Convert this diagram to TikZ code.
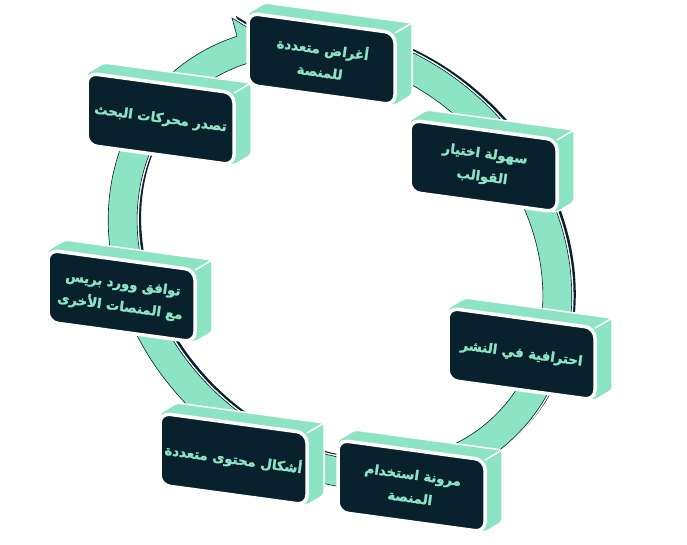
\documentclass[tikz,border=0pt]{standalone}
\usepackage{fontspec}
\TeXXeTstate=1
\newfontfamily\arabicfont[Script=Arabic,FakeBold=1.6]{DejaVu Sans}
\definecolor{mintc}{RGB}{140,228,196}
\definecolor{darkc}{RGB}{8,33,45}

\newcommand\ringlayer[2]{%
\begin{scope}[shift={#1}]
 \begin{scope}[shift={(340,258)},rotate=-45]
  \path[#2,even odd rule] (0,0) ellipse [x radius=250pt,y radius=212pt] (0,0) ellipse [x radius=221pt,y radius=183pt];
 \end{scope}
 \path[#2] (237,36) -- (232,18) -- (268,40) -- (257,77) -- (249,63);
\end{scope}}

\newcommand\slab[4]{%
 \fill[mintc,draw=white,line width=1.5pt,rounded corners=3pt]
   ({#2},{#3+72}) -- ({#2},{#3}) -- ({#2+17},{#3-10}) -- ({#2+164},{#3+10}) -- ({#2+164},{#3+82}) -- ({#2+147},{#3+92}) -- cycle;
 \draw[white,line width=1.5pt] ({#2+147},{#3+20}) -- ({#2+164},{#3+10});
 \filldraw[face] ({#2},{#3}) -- ({#2+147},{#3+20}) -- ({#2+147},{#3+92}) -- ({#2},{#3+72}) -- cycle;
 \node[txt] (#1) at ({#2+73.5},{#3+46}) {#4};
}

\begin{document}
\begin{tikzpicture}[x=1pt,y=-1pt,
  face/.style={fill=darkc,draw=white,line width=3.5pt,rounded corners=10pt},
  txt/.style={text=mintc,font=\arabicfont\bfseries\fontsize{13.3}{23}\selectfont,align=center,rotate=-7.75,inner sep=0pt}]
\useasboundingbox (0,0) rectangle (687,544);

\ringlayer{(4,-2)}{fill=darkc}
\ringlayer{(0,0)}{draw=white,line width=3.5pt}
\ringlayer{(0,0)}{fill=mintc,draw=darkc,line width=0.6pt}

\slab{b3}{87}{73}{\beginR تصدر محركات البحث\endR}
\slab{b1}{248}{13}{\beginR أغراض متعددة\endR\\\beginR للمنصة\endR}
\slab{b2}{410}{120}{\beginR سهولة اختيار\endR\\\beginR القوالب\endR}
\slab{b4}{48}{250}{\beginR توافق وورد بريس\endR\\\beginR مع المنصات الأخرى\endR}
\slab{b5}{448}{308}{\beginR احترافية في النشر\endR}
\slab{b6}{160}{413}{\beginR أشكال محتوى متعددة\endR}
\slab{b7}{338}{440}{\beginR مرونة استخدام\endR\\\beginR المنصة\endR}
\end{tikzpicture}
\end{document}
